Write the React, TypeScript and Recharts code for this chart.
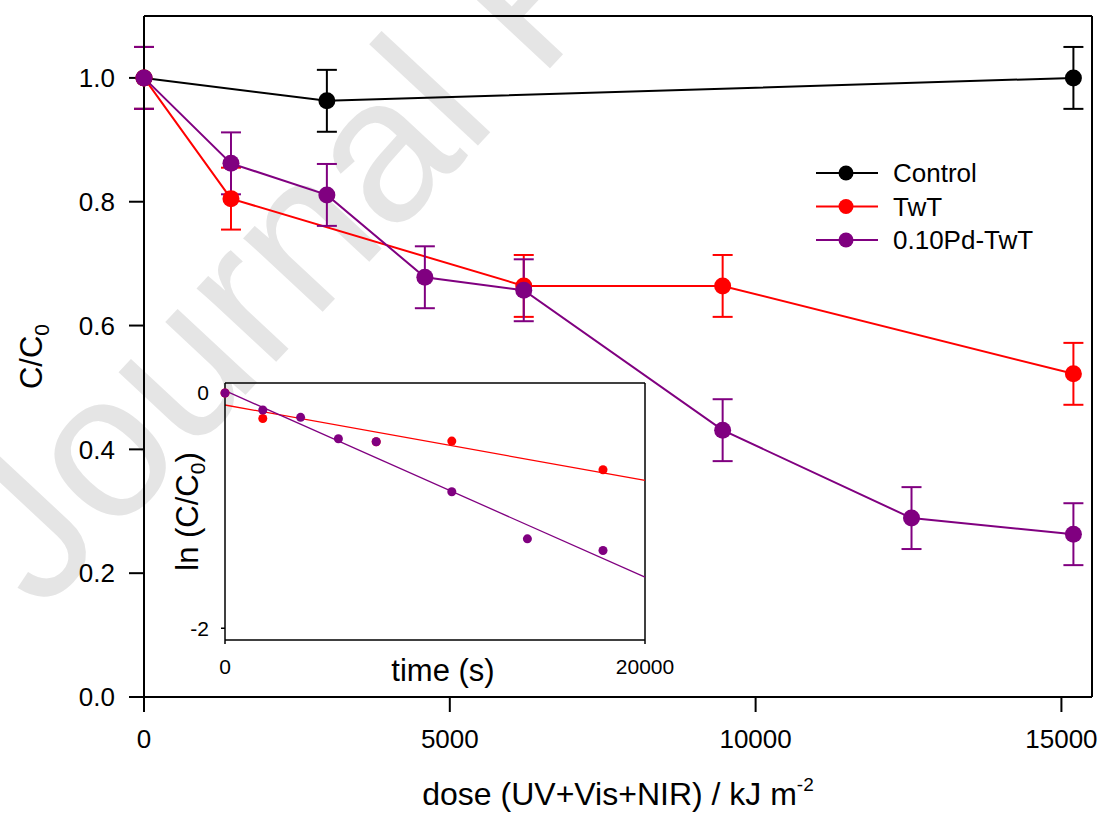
import React from 'react';
import {
  LineChart,
  ComposedChart,
  Line,
  Scatter,
  XAxis,
  YAxis,
  ErrorBar,
  ReferenceLine,
  Legend,
  Label,
} from 'recharts';

const FONT = '"Liberation Sans", Arial, sans-serif';

// main panel: C/C0 vs dose (kJ m-2)
const seriesNames = ['Control', 'TwT', '0.10Pd-TwT'];

const controlDose = [0, 2990, 15196];
const controlC = [1.0, 0.963, 1.0];
const controlErr = [0.05, 0.05, 0.05];

const twtDose = [0, 1422, 6209, 9461, 15196];
const twtC = [1.0, 0.805, 0.664, 0.664, 0.522];
const twtErr = [0.05, 0.05, 0.05, 0.05, 0.05];

const pdDose = [0, 1422, 2990, 4592, 6209, 9461, 12549, 15196];
const pdC = [1.0, 0.862, 0.811, 0.678, 0.657, 0.431, 0.289, 0.263];
const pdErr = [0.05, 0.05, 0.05, 0.05, 0.05, 0.05, 0.05, 0.05];

const doseTicks = [0, 5000, 10000, 15000];
const cTicks = [0, 0.2, 0.4, 0.6, 0.8, 1.0];

// inset: ln(C/C0) vs time (s), points + linear fits
const twtTime = [0, 1800, 7200, 10800, 18000];
const twtLn = [0, -0.217, -0.414, -0.409, -0.653];
const pdTime = [0, 1800, 3600, 5400, 7200, 10800, 14400, 18000];
const pdLn = [0, -0.145, -0.207, -0.389, -0.414, -0.84, -1.24, -1.339];
const fitTime = [0, 20000];
const twtFit = [-0.102, -0.743];
const pdFit = [0.02, -1.566];

const timeTicks = [0, 20000];
const lnTicks = [-2, 0];

const BLACK = '#000000';
const RED = '#ff0000';
const PURPLE = '#800080';

const toRows = (xs: number[], ys: number[], es: number[]) =>
  xs.map((x, i) => ({ x, y: ys[i], e: es[i] }));
const toPts = (ts: number[], vs: number[]) => ts.map((t, i) => ({ t, v: vs[i] }));

const controlData = toRows(controlDose, controlC, controlErr);
const twtData = toRows(twtDose, twtC, twtErr);
const pdData = toRows(pdDose, pdC, pdErr);

const twtPts = toPts(twtTime, twtLn);
const pdPts = toPts(pdTime, pdLn);
const twtFitLine = toPts(fitTime, twtFit);
const pdFitLine = toPts(fitTime, pdFit);

// legend keeps the plotting order, not alphabetical
const renderLegend = (props: any) => {
  const items = [...(props.payload || [])].sort(
    (a: any, b: any) => seriesNames.indexOf(a.value) - seriesNames.indexOf(b.value)
  );
  return (
    <svg width={260} height={110} style={{ overflow: 'visible' }}>
      {items.map((it: any, i: number) => {
        const cy = 18 + i * 33.5;
        return (
          <g key={i}>
            <line x1={10} x2={72} y1={cy} y2={cy} stroke={it.color} strokeWidth={2} />
            <circle cx={40} cy={cy} r={7.5} fill={it.color} />
            <text x={87} y={cy} dy="0.35em" fontSize={26} fontFamily={FONT} fill="#000">
              {it.value}
            </text>
          </g>
        );
      })}
    </svg>
  );
};

const mainTick = { fill: '#000', fontSize: 26, fontFamily: FONT };
const insetTick = { fill: '#000', fontSize: 21, fontFamily: FONT };
const thick = { stroke: '#000', strokeWidth: 2 };
const thin = { stroke: '#000', strokeWidth: 1.5 };

const Watermark = () => (
  <svg width={1102} height={814} style={{ position: 'absolute', left: 0, top: 0 }}>
    <text
      x={41}
      y={614}
      transform="rotate(-47, 41, 614)"
      fontSize={205}
      fontFamily={FONT}
      fill="#e5e5e5"
    >
      Journal Pre-proof
    </text>
  </svg>
);

const Inset = () => (
  <div style={{ position: 'absolute', left: 140, top: 370 }}>
    <ComposedChart width={560} height={330} margin={{ top: 13, right: 55, bottom: 15, left: 45 }}>
      <XAxis
        dataKey="t"
        type="number"
        domain={[0, 20000]}
        ticks={timeTicks}
        interval={0}
        height={45}
        tickSize={4}
        tickMargin={15}
        tick={insetTick}
        axisLine={thin}
        tickLine={thin}
      >
        <Label
          content={(p: any) => {
            const vb = p.viewBox;
            return (
              <text x={vb.x + vb.width / 2 + 8} y={vb.y + 30} dy="0.35em" textAnchor="middle"
                fontSize={31} fontFamily={FONT} fill="#000">
                time (s)
              </text>
            );
          }}
        />
      </XAxis>
      <YAxis
        dataKey="v"
        type="number"
        domain={[-2.1, 0.085]}
        ticks={lnTicks}
        interval={0}
        width={40}
        tickSize={4}
        tickMargin={12}
        tick={insetTick}
        axisLine={thin}
        tickLine={thin}
      >
        <Label
          content={(p: any) => {
            const vb = p.viewBox;
            const cx = vb.x + 2;
            const cy = vb.y + vb.height / 2;
            return (
              <text x={cx} y={cy} dy="0.35em" textAnchor="middle" transform={`rotate(-90, ${cx}, ${cy})`}
                fontSize={31} fontFamily={FONT} fill="#000">
                ln (C/C<tspan fontSize={21} dy={7}>0</tspan><tspan dy={-7}>)</tspan>
              </text>
            );
          }}
        />
      </YAxis>
      <ReferenceLine y={0.085} stroke="#000" strokeWidth={1.5} />
      <ReferenceLine x={20000} stroke="#000" strokeWidth={1.5} />
      <Line data={twtFitLine} dataKey="v" stroke={RED} strokeWidth={1.3} dot={false} isAnimationActive={false} />
      <Line data={pdFitLine} dataKey="v" stroke={PURPLE} strokeWidth={1.3} dot={false} isAnimationActive={false} />
      <Scatter data={twtPts} fill={RED} isAnimationActive={false} />
      <Scatter data={pdPts} fill={PURPLE} isAnimationActive={false} />
    </ComposedChart>
  </div>
);

export default function App() {
  return (
    <div style={{ position: 'absolute', left: 0, top: 0, width: 1102, height: 814, background: '#fff' }}>
      <Watermark />
      <div style={{ position: 'absolute', left: 0, top: 0 }}>
        <LineChart width={1102} height={814} margin={{ top: 16, right: 10, bottom: 57, left: 64 }}>
          <XAxis
            dataKey="x"
            type="number"
            domain={[0, 15500]}
            ticks={doseTicks}
            interval={0}
            height={60}
            tickSize={15}
            tickMargin={18}
            tick={mainTick}
            axisLine={thick}
            tickLine={thick}
          >
            <Label
              content={(p: any) => {
                const vb = p.viewBox;
                return (
                  <text x={vb.x + vb.width / 2} y={vb.y + 108} textAnchor="middle"
                    fontSize={32} fontFamily={FONT} fill="#000">
                    dose (UV+Vis+NIR) / kJ m<tspan fontSize={19} dy={-14}>-2</tspan>
                  </text>
                );
              }}
            />
          </XAxis>
          <YAxis
            type="number"
            domain={[0, 1.1]}
            ticks={cTicks}
            interval={0}
            width={80}
            tickSize={15}
            tickMargin={14}
            tickFormatter={(v: number) => v.toFixed(1)}
            tick={mainTick}
            axisLine={thick}
            tickLine={thick}
          >
            <Label
              content={(p: any) => {
                const vb = p.viewBox;
                const cx = 31;
                const cy = vb.y + vb.height / 2;
                return (
                  <text x={cx} y={cy} dy="0.35em" textAnchor="middle" transform={`rotate(-90, ${cx}, ${cy})`}
                    fontSize={31} fontFamily={FONT} fill="#000">
                    C/C<tspan fontSize={21} dy={7}>0</tspan>
                  </text>
                );
              }}
            />
          </YAxis>
          <ReferenceLine y={1.1} stroke="#000" strokeWidth={2} />
          <ReferenceLine x={15500} stroke="#000" strokeWidth={2} />
          <Line data={controlData} dataKey="y" name="Control" stroke={BLACK} strokeWidth={2}
            dot={{ r: 8.5, fill: BLACK, strokeWidth: 0 }} activeDot={false} isAnimationActive={false}>
            <ErrorBar dataKey="e" direction="y" width={10} stroke={BLACK} strokeWidth={2} />
          </Line>
          <Line data={twtData} dataKey="y" name="TwT" stroke={RED} strokeWidth={2}
            dot={{ r: 8.5, fill: RED, strokeWidth: 0 }} activeDot={false} isAnimationActive={false}>
            <ErrorBar dataKey="e" direction="y" width={10} stroke={RED} strokeWidth={2} />
          </Line>
          <Line data={pdData} dataKey="y" name="0.10Pd-TwT" stroke={PURPLE} strokeWidth={2}
            dot={{ r: 8.5, fill: PURPLE, strokeWidth: 0 }} activeDot={false} isAnimationActive={false}>
            <ErrorBar dataKey="e" direction="y" width={10} stroke={PURPLE} strokeWidth={2} />
          </Line>
          <Legend
            layout="vertical"
            align="center"
            verticalAlign="middle"
            content={renderLegend}
            wrapperStyle={{ position: 'absolute', left: 806, top: 155, width: 260, height: 110 }}
          />
        </LineChart>
      </div>
      <Inset />
    </div>
  );
}
